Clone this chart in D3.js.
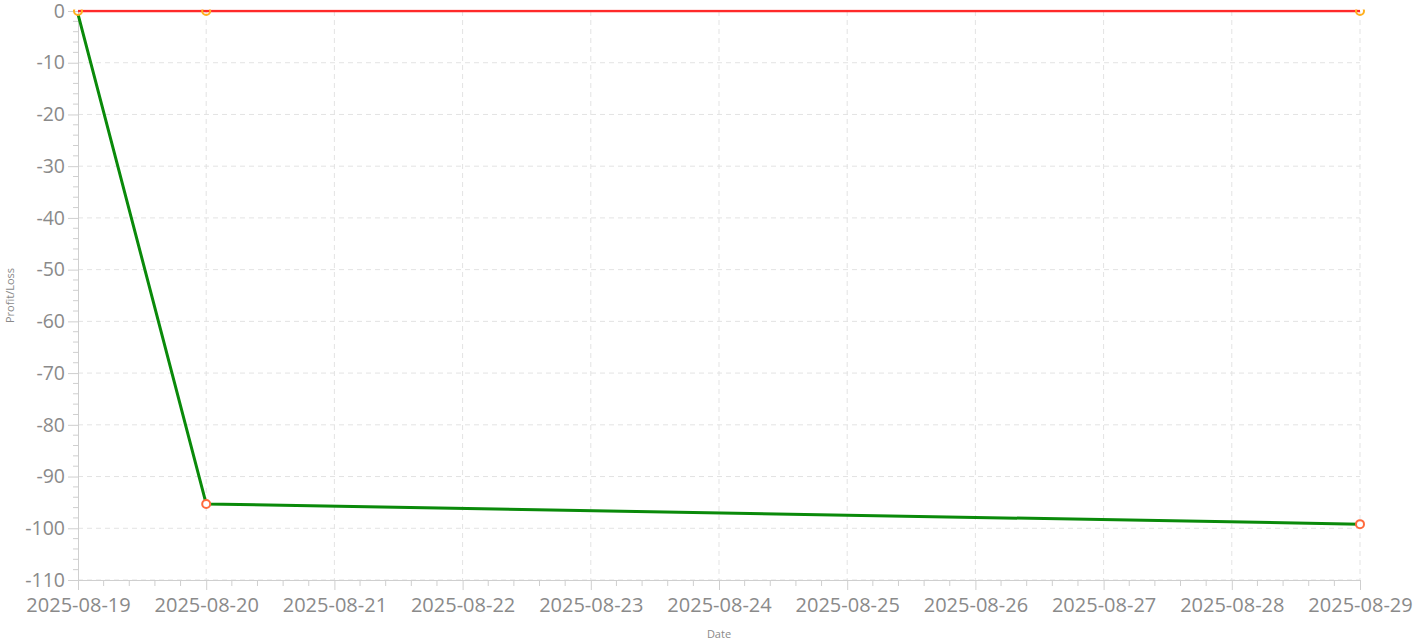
<!DOCTYPE html>
<html><head><meta charset="utf-8">
<script src="https://cdn.jsdelivr.net/npm/d3@7"></script>
<style>
html,body{margin:0;padding:0;background:#fff;}
svg{display:block;font-family:"Open Sans","Noto Sans",sans-serif;}
</style></head>
<body>
<svg id="chart" width="1415" height="641"></svg>
<script>
// Data
const dates = ["2025-08-19", "2025-08-20", "2025-08-29"];
const seriesGreen = [-0.6, -95.3, -99.2];
const seriesRed = [0, 0, 0];
const xTickLabels = ["2025-08-19","2025-08-20","2025-08-21","2025-08-22","2025-08-23","2025-08-24","2025-08-25","2025-08-26","2025-08-27","2025-08-28","2025-08-29"];
const yTicks = [0,-10,-20,-30,-40,-50,-60,-70,-80,-90,-100,-110];
const xTitle = "Date";
const yTitle = "Profit/Loss";

const W = 1415, H = 641;
const m = {left:78, right:55, top:11, bottom:61};
const svg = d3.select("#chart");
const parse = d3.utcParse("%Y-%m-%d");
const fmt = d3.utcFormat("%Y-%m-%d");
const xDates = xTickLabels.map(parse);

const x = d3.scaleUtc().domain([xDates[0], xDates[xDates.length-1]]).range([m.left, W-m.right]);
const y = d3.scaleLinear().domain([-110, 0]).range([H-m.bottom, m.top]);

const axisColor = "#cfcfcf", labelColor = "#8a8a8a", gridColor = "#e3e3e3";
const fontFam = '"Open Sans","Noto Sans",sans-serif';

// grid
const g = svg.append("g");
g.selectAll("line.hg").data(yTicks).enter().append("line")
  .attr("x1", m.left).attr("x2", W-m.right)
  .attr("y1", d=>y(d)).attr("y2", d=>y(d))
  .attr("stroke", gridColor).attr("stroke-dasharray","5,4").attr("stroke-width",1);
g.selectAll("line.vg").data(xDates.slice(1)).enter().append("line")
  .attr("x1", d=>x(d)).attr("x2", d=>x(d))
  .attr("y1", m.top).attr("y2", H-m.bottom)
  .attr("stroke", gridColor).attr("stroke-dasharray","5,4").attr("stroke-width",1);

// y axis
const yAxis = d3.axisLeft(y).tickValues(yTicks).tickSize(10).tickPadding(3).tickFormat(d => String(d));
const ya = svg.append("g").attr("transform",`translate(${m.left},0)`).call(yAxis);
const yMinor = d3.range(-110, 0.001, 2).filter(v => Math.round(v) % 10 !== 0);
svg.append("g").selectAll("line").data(yMinor).enter().append("line")
  .attr("x1", m.left-5).attr("x2", m.left).attr("y1", d=>y(d)).attr("y2", d=>y(d))
  .attr("stroke", axisColor);

// x axis
const xAxis = d3.axisBottom(x).tickValues(xDates).tickSize(10).tickPadding(8).tickFormat(fmt);
const xa = svg.append("g").attr("transform",`translate(0,${H-m.bottom})`).call(xAxis);
const dayMs = 86400000;
const xMinor = [];
xDates.slice(0,-1).forEach(d => { for (let k=1;k<5;k++) xMinor.push(new Date(+d + k*dayMs/5)); });
svg.append("g").selectAll("line").data(xMinor).enter().append("line")
  .attr("x1", d=>x(d)).attr("x2", d=>x(d)).attr("y1", H-m.bottom).attr("y2", H-m.bottom+6)
  .attr("stroke", axisColor);

[ya, xa].forEach(a => {
  a.select(".domain").attr("stroke", axisColor);
  a.selectAll(".tick line").attr("stroke", axisColor);
  a.selectAll(".tick text").attr("fill", labelColor).style("font-family",fontFam);
});
ya.selectAll(".tick text").style("font-size","19.5px");
xa.selectAll(".tick text").style("font-size","20px");

// titles
svg.append("text").attr("x", (m.left + W-m.right)/2).attr("y", 638).attr("text-anchor","middle")
  .attr("fill", labelColor).style("font-size","11px").text(xTitle);
svg.append("text").attr("transform",`translate(14,${(m.top+H-m.bottom)/2}) rotate(-90)`).attr("text-anchor","middle")
  .attr("fill", labelColor).style("font-size","11px").text(yTitle);

// clip
svg.append("clipPath").attr("id","clip").append("rect")
  .attr("x", m.left-6).attr("y", m.top-1.5).attr("width", W-m.left-m.right+12).attr("height", H-m.top-m.bottom+1.5);
const plot = svg.append("g").attr("clip-path","url(#clip)");

const ptsG = dates.map((d,i)=>({d:parse(d), v:seriesGreen[i]}));
const ptsR = dates.map((d,i)=>({d:parse(d), v:seriesRed[i]}));
const line = d3.line().x(p=>x(p.d)).y(p=>y(p.v));

plot.append("path").datum(ptsG).attr("d", line).attr("fill","none").attr("stroke","#0a8a0a").attr("stroke-width",3).attr("stroke-linejoin","round");
plot.append("path").datum(ptsR).attr("d", line).attr("fill","none").attr("stroke","#ff2a2a").attr("stroke-width",2.5);

plot.selectAll("circle.g").data(ptsG.slice(1)).enter().append("circle")
  .attr("cx", p=>x(p.d)).attr("cy", p=>y(p.v)).attr("r",4)
  .attr("fill","#fff").attr("stroke","#ff6a3d").attr("stroke-width",2);
plot.selectAll("circle.r").data(ptsR).enter().append("circle")
  .attr("cx", p=>x(p.d)).attr("cy", p=>y(p.v)).attr("r",4)
  .attr("fill","none").attr("stroke","#ffb020").attr("stroke-width",2);
</script>
</body></html>
